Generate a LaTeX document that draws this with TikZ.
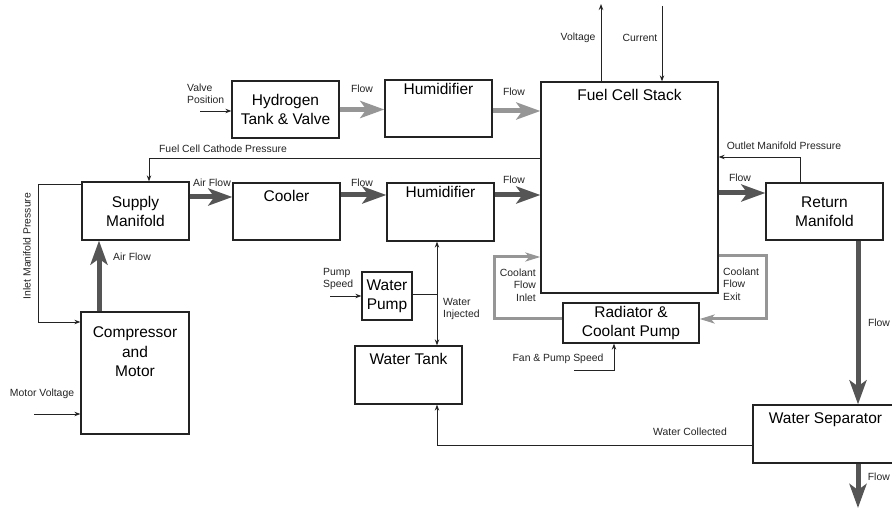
\documentclass[tikz,border=0pt]{standalone}
\usepackage{fontspec}
\setmainfont{Liberation Sans}
\usepackage{tikz}
\usetikzlibrary{arrows.meta, positioning, calc}
\definecolor{negrito}{RGB}{35,35,35}
\definecolor{grisito}{RGB}{150,150,150}
\definecolor{grisoscurito}{RGB}{85,85,85}
\newcommand{\grandetxt}{\fontsize{15.5}{19}\selectfont}
\newcommand{\chicotxt}{\fontsize{10.4}{12.5}\selectfont}
\tikzset{>={Stealth[length=6pt,width=4.5pt]},
  bloque/.style={draw=negrito, line width=1.3pt, font=\grandetxt, align=center, inner sep=0pt},
  titulo/.style={font=\grandetxt, anchor=north, inner sep=0pt, align=center},
  etiqueta/.style={font=\chicotxt, inner sep=0pt, align=center, text=negrito},
  senal/.style={draw=negrito, line width=0.9pt, ->},
  flujo/.style={draw=grisoscurito, line width=5pt, -{Stealth[length=24pt,width=17pt,inset=6pt]}},
  flujoh/.style={draw=grisito, line width=5pt, -{Stealth[length=24pt,width=17pt,inset=6pt]}},
  refrig/.style={draw=grisito, line width=3pt, -{Stealth[length=15pt,width=9pt,inset=4pt]}}}

\begin{document}
\begin{tikzpicture}[x=1pt, y=-1pt]
    \useasboundingbox (0,0) rectangle (892,510);
    \clip (0,0) rectangle (892,510);
    % blocks, top row
    \node[bloque, minimum width=107pt, minimum height=57pt] (tanque) at (285.5,109.5) {Hydrogen\\Tank \& Valve};
    \node[bloque, minimum width=107pt, minimum height=57pt,
      label={[titulo, yshift=-3.5pt]north:Humidifier}] (hum1) at (438.5,108.5) {};
    \node[bloque, minimum width=177pt, minimum height=211pt,
      label={[titulo, yshift=-7.5pt]north:Fuel Cell Stack}] (pila) at (629.5,187.5) {};
    % blocks, middle row
    \node[bloque, minimum width=107pt, minimum height=58pt] (sup) at (135.5,211) {Supply\\Manifold};
    \node[bloque, minimum width=107pt, minimum height=57pt,
      label={[titulo, yshift=-7.5pt]north:Cooler}] (enfr) at (286.5,211.5) {};
    \node[bloque, minimum width=107pt, minimum height=58pt,
      label={[titulo, yshift=-4pt]north:Humidifier}] (hum2) at (440.5,212) {};
    \node[bloque, minimum width=117pt, minimum height=57pt] (ret) at (824.5,211.5) {Return\\Manifold};
    % blocks, bottom
    \node[bloque, minimum width=108pt, minimum height=122pt,
      label={[titulo, yshift=-15.5pt, font=\fontsize{15.5}{19.5}\selectfont]north:Compressor\\and\\Motor}] (comp) at (135,373) {};
    \node[bloque, minimum width=50pt, minimum height=48pt] (bomba) at (387,296) {Water\\Pump};
    \node[bloque, minimum width=107pt, minimum height=58pt,
      label={[titulo, yshift=-7.5pt]north:Water Tank}] (agua) at (408.5,375) {};
    \node[bloque, minimum width=136pt, minimum height=40pt] (rad) at (631,323) {Radiator \&\\Coolant Pump};
    \node[bloque, minimum width=147pt, minimum height=58pt,
      label={[titulo, yshift=-8.5pt, xshift=-1pt]north:Water Separator}] (sep) at (826.5,434) {};
    % hydrogen line
    \draw[flujoh] (tanque.east) -- (tanque.east -| hum1.west);
    \draw[flujoh] ([yshift=-2.5pt]hum1.east) -- ([yshift=-2.5pt]hum1.east -| pila.west);
    \node[etiqueta] (lflujo1) at (362,89) {Flow};
    \node[etiqueta] (lflujo2) at (514,92) {Flow};
    % air line
    \draw[flujo] ([xshift=-36pt]comp.north) -- ([xshift=-36pt]comp.north |- sup.south);
    \draw[flujo] ([yshift=14pt]sup.east) -- ([yshift=14pt]sup.east -| enfr.west);
    \draw[flujo] ([yshift=16.5pt]enfr.east) -- ([yshift=16.5pt]enfr.east -| hum2.west);
    \draw[flujo] ([yshift=17pt]hum2.east) -- ([yshift=17pt]hum2.east -| pila.west);
    \draw[flujo] ([yshift=18.5pt]ret.west -| pila.east) -- ([yshift=18.5pt]ret.west);
    \draw[flujo] ([xshift=33.5pt]ret.south) -- ([xshift=33.5pt]ret.south |- sep.north);
    \coordinate (salida) at (858,508);
    \draw[flujo] (salida |- sep.south) -- (salida);
    \node[etiqueta] (laire1) at (132,257) {Air Flow};
    \node[etiqueta] (laire2) at (212,183) {Air Flow};
    \node[etiqueta] (lflujo3) at (362,183) {Flow};
    \node[etiqueta] (lflujo4) at (514,180) {Flow};
    \node[etiqueta] (lflujo5) at (740,178) {Flow};
    \node[etiqueta] (lflujo6) at (879,323) {Flow};
    \node[etiqueta, anchor=east] (lflujo7) at (890,477) {Flow};
    % signals
    \coordinate (valv) at (200,111);
    \draw[senal] (valv) -- (valv -| tanque.west);
    \node[etiqueta, align=left, anchor=west] (lvalv) at (187,94) {Valve\\Position};
    \coordinate (cat) at (149,158);
    \draw[senal] (cat -| pila.west) -- (cat) -- (cat |- sup.north);
    \node[etiqueta] (lcat) at (223,149) {Fuel Cell Cathode Pressure};
    \coordinate (ent1) at (38,184);
    \coordinate (ent2) at (38,322);
    \draw[senal] (ent1 -| sup.west) -- (ent1) -- (ent2) -- (ent2 -| comp.west);
    \node[etiqueta, rotate=90] (lent) at (27,246) {Inlet Manifold Pressure};
    \coordinate (mot) at (34,414);
    \draw[senal] (mot) -- (mot -| comp.west);
    \node[etiqueta] (lmot) at (42,394) {Motor Voltage};
    \coordinate (volt) at (601,4);
    \draw[senal] (volt |- pila.north) -- (volt);
    \node[etiqueta] (lvolt) at (578,38) {Voltage};
    \coordinate (corr) at (662,6);
    \draw[senal] (corr) -- (corr |- pila.north);
    \node[etiqueta] (lcorr) at (640,38) {Current};
    \coordinate (sal) at (800,157);
    \draw[senal] (sal |- ret.north) -- (sal) -- (sal -| pila.east);
    \node[etiqueta] (lsal) at (784,146) {Outlet Manifold Pressure};
    % water loop
    \coordinate (iny) at (437,294);
    \draw[senal, <->] (iny |- hum2.south) -- (iny |- agua.north);
    \draw[draw=negrito, line width=0.9pt] (bomba.east |- iny) -- (iny);
    \node[etiqueta, align=left, anchor=west] (liny) at (443,309) {Water\\Injected};
    \coordinate (vel) at (330,296);
    \draw[senal] (vel) -- (vel -| bomba.west);
    \node[etiqueta, align=left, anchor=west] (lvel) at (323,279) {Pump\\Speed};
    \coordinate (rec) at (437,445);
    \draw[senal] (rec -| sep.west) -- (rec) -- (rec |- agua.south);
    \node[etiqueta] (lrec) at (690,432) {Water Collected};
    % coolant loop
    \coordinate (ci1) at (494,319);
    \coordinate (ci2) at (494,257);
    \draw[refrig] (ci1 -| rad.west) -- (ci1) -- (ci2) -- (ci2 -| pila.west);
    \node[etiqueta, align=right, anchor=east] (lci) at (536,285) {Coolant\\Flow\\Inlet};
    \coordinate (ce1) at (766,256);
    \coordinate (ce2) at (766,319);
    \draw[refrig] (ce1 -| pila.east) -- (ce1) -- (ce2) -- (ce2 -| rad.east);
    \node[etiqueta, align=left, anchor=west] (lce) at (723,284) {Coolant\\Flow\\Exit};
    \coordinate (fan1) at (574,370);
    \coordinate (fan2) at (614,370);
    \draw[senal] (fan1) -- (fan2) -- (fan2 |- rad.south);
    \node[etiqueta] (lfan) at (558,359) {Fan \& Pump Speed};
\end{tikzpicture}
\end{document}
